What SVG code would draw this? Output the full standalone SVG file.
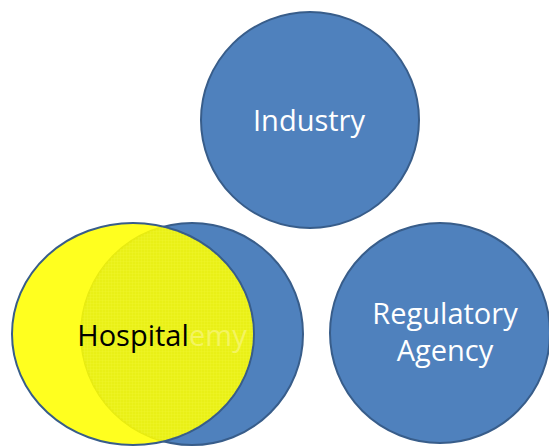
<svg xmlns="http://www.w3.org/2000/svg" width="549" height="446" viewBox="0 0 549 446">
<style>
.node{fill:#4f81bd;stroke:#385d8a;stroke-width:2}
.lbl{font-family:"Open Sans","Liberation Sans",sans-serif;font-size:29px;text-anchor:middle}
.w{fill:#ffffff}
</style>
<defs>
<pattern id="grid" width="3" height="3" patternUnits="userSpaceOnUse">
<path d="M0 0.5H3M0.5 0V3" stroke="#f4f840" stroke-width="0.6" stroke-opacity="0.35" fill="none"/>
</pattern>
<clipPath id="blueClip"><circle cx="192" cy="334" r="111"/></clipPath>
</defs>
<rect width="549" height="446" fill="#ffffff"/>
<g id="industry">
<ellipse class="node" cx="310" cy="120" rx="109" ry="108"/>
<text class="lbl w" x="309" y="131">Industry</text>
</g>
<g id="regulatory-agency">
<circle class="node" cx="440" cy="333" r="110"/>
<text class="lbl w" x="445" y="323.5" font-size="27.5">Regulatory</text>
<text class="lbl w" x="445" y="361" font-size="27.5">Agency</text>
</g>
<g id="academy">
<circle class="node" cx="192" cy="334" r="111"/>
</g>
<g id="hospital">
<ellipse cx="133" cy="334" rx="121" ry="111" fill="#ffff00" fill-opacity="0.88" stroke="#385d8a" stroke-width="2"/>
<ellipse cx="133" cy="334" rx="120" ry="110" fill="url(#grid)" clip-path="url(#blueClip)"/>
<text x="189" y="346" font-family="'Open Sans','Liberation Sans',sans-serif" font-size="29" fill="#f4f460">emy</text>
<text class="lbl" x="133" y="346" fill="#000000">Hospital</text>
</g>
<g id="connectors"></g>
</svg>
